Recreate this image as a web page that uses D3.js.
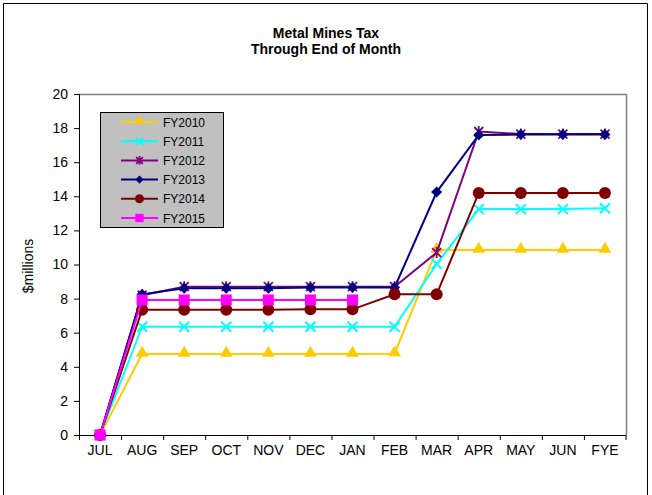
<!DOCTYPE html>
<html><head><meta charset="utf-8">
<script src="https://cdn.jsdelivr.net/npm/d3@7"></script>
<style>body{margin:0;background:#fff}svg{display:block;font-family:"Liberation Sans",Arial,sans-serif}</style>
</head><body><svg id="c" width="652" height="495"></svg>
<script>
const months = ["JUL","AUG","SEP","OCT","NOV","DEC","JAN","FEB","MAR","APR","MAY","JUN","FYE"];
const yTicks = [0,2,4,6,8,10,12,14,16,18,20];
const seriesNames = ["FY2010","FY2011","FY2012","FY2013","FY2014","FY2015"];
const fy2010 = [0,4.75,4.75,4.75,4.75,4.75,4.75,4.77,10.85,10.85,10.85,10.85,10.85];
const fy2011 = [0,6.35,6.35,6.35,6.35,6.35,6.35,6.35,10.03,13.25,13.25,13.25,13.3];
const fy2012 = [0,8.2,8.7,8.7,8.7,8.7,8.7,8.7,10.7,17.8,17.65,17.65,17.65];
const fy2013 = [0,8.25,8.6,8.6,8.6,8.65,8.65,8.65,14.25,17.6,17.62,17.62,17.62];
const fy2014 = [0,7.35,7.35,7.35,7.35,7.37,7.37,8.25,8.25,14.2,14.2,14.2,14.2];
const fy2015 = [0,7.92,7.92,7.92,7.92,7.92,7.92];
const seriesValues = [fy2010,fy2011,fy2012,fy2013,fy2014,fy2015];
const colors = ["#FFCC00","#00FFFF","#800080","#000080","#800000","#FF00FF"];
const markers = ["triangle","x","star","diamond","circle","square"];

const svg = d3.select("#c");
svg.append("path").attr("d","M3.5,500V3.5H647.5V500").attr("fill","none").attr("stroke","#000").attr("stroke-width",1);

const L=79,R=626,T=94,B=435;
const x = d3.scaleBand().domain(months).range([L,R]);
const y = d3.scaleLinear().domain([0,20]).range([B,T]);
const cx = m => x(m)+x.bandwidth()/2;

svg.append("text").attr("x",326).attr("y",38).attr("text-anchor","middle").attr("font-weight","bold").attr("font-size",14).text("Metal Mines Tax");
svg.append("text").attr("x",326).attr("y",54).attr("text-anchor","middle").attr("font-weight","bold").attr("font-size",14).text("Through End of Month");

svg.append("path").attr("d",`M${L},${T+0.5}H${R+0.5}V${B}`).attr("fill","none").attr("stroke","#808080").attr("stroke-width",1.5);

const ya = svg.append("g").attr("transform",`translate(${L},0)`)
  .call(d3.axisLeft(y).tickValues(yTicks).tickSize(5).tickPadding(6).tickFormat(d3.format("d")));
ya.selectAll("text").attr("font-size",14).attr("fill","#000").attr("font-family","Liberation Sans, Arial, sans-serif");
ya.select(".domain").attr("stroke","#000");
ya.selectAll(".tick line").attr("stroke","#000");

const xa = svg.append("g").attr("transform",`translate(0,${B})`)
  .call(d3.axisBottom(x).tickSize(0).tickPadding(10));
xa.selectAll("text").attr("font-size",14).attr("fill","#000").attr("font-family","Liberation Sans, Arial, sans-serif");
xa.select(".domain").attr("stroke","#000").attr("d",`M${L},0.5H${R}`);
svg.append("g").selectAll("line").data(months).join("line")
  .attr("x1",d=>x(d)+0.5).attr("x2",d=>x(d)+0.5).attr("y1",B).attr("y2",B+5).attr("stroke","#000");
svg.append("line").attr("x1",R).attr("x2",R).attr("y1",B).attr("y2",B+5).attr("stroke","#000");

svg.append("text").attr("transform","translate(33,266) rotate(-90)").attr("text-anchor","middle").attr("font-size",14).text("$millions");

function drawMarker(g, type, color, px, py, k){
  k = k||1;
  if(type==="triangle"){
    g.append("path").attr("d",d3.symbol(d3.symbolTriangle,70*k*k)()).attr("transform",`translate(${px},${py-1})`).attr("fill",color);
  } else if(type==="x"){
    const s=5*k;
    g.append("path").attr("d",`M${px-s},${py-s}L${px+s},${py+s}M${px-s},${py+s}L${px+s},${py-s}`).attr("stroke",color).attr("stroke-width",2).attr("fill","none");
  } else if(type==="star"){
    const s=4.5*k;
    g.append("path").attr("d",`M${px-s},${py-s}L${px+s},${py+s}M${px-s},${py+s}L${px+s},${py-s}M${px},${py-s-1}L${px},${py+s+1}`).attr("stroke",color).attr("stroke-width",1.8).attr("fill","none");
  } else if(type==="diamond"){
    const s=5.5*k;
    g.append("path").attr("d",`M${px},${py-s}L${px+s},${py}L${px},${py+s}L${px-s},${py}Z`).attr("fill",color);
  } else if(type==="circle"){
    g.append("circle").attr("cx",px).attr("cy",py).attr("r",6*k).attr("fill",color);
  } else if(type==="square"){
    const s=5.5*k;
    g.append("rect").attr("x",px-s).attr("y",py-s).attr("width",2*s).attr("height",2*s).attr("fill",color);
  }
}

const line = d3.line().x((d,i)=>cx(months[i])).y(d=>y(d));
seriesValues.forEach((vals,si)=>{
  const g = svg.append("g");
  g.append("path").attr("d",line(vals)).attr("fill","none").attr("stroke",colors[si]).attr("stroke-width",2);
  vals.forEach((v,i)=>drawMarker(g,markers[si],colors[si],cx(months[i]),y(v)));
});

const lg = svg.append("g");
lg.append("rect").attr("x",100.5).attr("y",112.5).attr("width",123).attr("height",115).attr("fill","#C0C0C0").attr("stroke","#000");
seriesNames.forEach((n,i)=>{
  const ly = 122 + i*19.2;
  lg.append("line").attr("x1",121).attr("x2",158).attr("y1",ly).attr("y2",ly).attr("stroke",colors[i]).attr("stroke-width",2);
  drawMarker(lg,markers[i],colors[i],139.5,ly,0.75);
  lg.append("text").attr("x",163).attr("y",ly+4.5).attr("font-size",12).text(n);
});
</script></body></html>
